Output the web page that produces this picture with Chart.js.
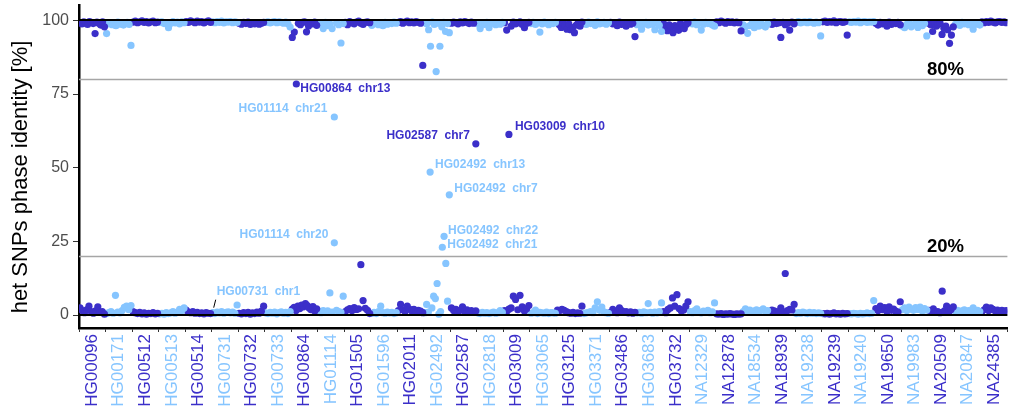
<!DOCTYPE html>
<html>
<head>
<meta charset="utf-8">
<script src="https://cdn.jsdelivr.net/npm/chart.js@4.4.1/dist/chart.umd.min.js"></script>
<style>
  html, body { margin: 0; padding: 0; background: #ffffff; }
  #wrap { width: 1011px; height: 410px; }
  canvas { display: block; }
</style>
</head>
<body>
<div id="wrap"><canvas id="c" width="1011" height="410"></canvas></div>
<script>
// ---------------- DATA ----------------
const samples = [
  "HG00096","HG00171","HG00512","HG00513","HG00514","HG00731","HG00732","HG00733",
  "HG00864","HG01114","HG01505","HG01596","HG02011","HG02492","HG02587","HG02818",
  "HG03009","HG03065","HG03125","HG03371","HG03486","HG03683","HG03732","NA12329",
  "NA12878","NA18534","NA18939","NA19238","NA19239","NA19240","NA19650","NA19983",
  "NA20509","NA20847","NA24385"
];

// phase identity values (%) near the top, listed left to right within each sample
const highBand = [
  [99.2,98.8,99.5,99.0,98.6,99.6,99.3,98.9,95.5,99.4,99.0,98.4,99.5,97.8],
  [95.5,98.8,99.2,98.5,99.0,98.2,99.4,98.7,99.1,98.4,98.9,99.3,98.6,91.5],
  [99.4,99.7,99.2,99.5,99.8,99.3,99.6,99.1,99.5,99.7,99.2,99.4],
  [99.3,99.5,98.9,99.2,97.5,99.0,99.6,99.1,99.4,98.8,99.5,99.2],
  [99.6,99.3,99.8,99.5,99.2,99.7,99.4,99.6,99.1,99.5,99.8,99.3],
  [99.5,99.2,99.6,99.3,99.7,99.1,99.5,99.4,99.6,99.2,99.5,99.3],
  [99.0,98.7,99.3,98.9,99.4,98.6,99.1,98.8,99.2,98.7,99.0,99.3],
  [99.3,99.5,99.1,99.4,99.6,99.2,99.5,99.3,99.0,99.4,98.8,97.7],
  [94.2,96.0,78.4,99.0,98.5,99.3,99.5,96.1,98.1,99.2,98.8,99.4,98.3],
  [99.0,98.6,97.2,99.3,98.2,98.8,97.2,67.2,99.1,98.5,92.3,98.9],
  [99.3,98.5,99.6,99.1,98.8,99.4,99.7,99.0,98.6,99.3,99.5,99.2],
  [98.3,98.8,99.2,98.5,99.0,98.2,99.3,98.7,99.1,98.9,99.4,99.0],
  [99.3,99.6,99.0,99.4,99.7,99.2,99.5,99.1,99.6,99.3,99.0,84.7],
  [99.2,98.8,96.8,91.2,99.4,98.6,82.6,99.0,91.2,97.8,99.3,96.2,98.9,95.8],
  [99.0,99.4,99.2,98.8,99.5,99.1,99.6,99.3,98.9,99.4,99.0,58.1],
  [98.8,97.2,99.1,98.6,99.3,97.5,98.9,99.2,98.5,99.0,98.7,99.3],
  [99.2,96.7,61.3,98.0,99.4,98.8,99.1,99.5,98.6,97.5,99.0,99.3],
  [98.9,99.3,98.6,99.1,96.0,98.8,99.4,99.0,98.5,99.2,98.9,99.3],
  [99.2,98.5,97.6,99.0,98.2,97.0,98.8,96.8,97.5,95.8,98.4,99.1,98.0,99.4],
  [99.2,98.6,99.4,98.9,99.1,98.3,99.5,98.8,99.0,99.3,98.7,99.2],
  [99.3,98.8,99.0,98.2,99.4,98.6,99.1,98.0,99.2,98.7,99.0,94.5],
  [98.5,99.1,97.0,98.8,99.3,98.4,99.0,98.6,96.8,99.2,98.3,96.2],
  [98.9,97.0,96.5,98.5,97.8,95.8,98.2,97.4,96.6,99.0,98.1,97.2,98.6,99.2],
  [99.2,98.8,99.4,98.5,99.0,96.7,98.7,99.3,98.9,99.1,98.4,98.0],
  [99.5,99.2,99.7,99.4,99.0,99.6,99.3,99.5,99.1,99.4,99.2,96.4],
  [98.5,97.8,95.6,98.2,99.0,97.5,98.6,98.0,99.2,98.3,97.7,98.8],
  [99.2,98.6,99.4,98.9,99.1,94.2,99.3,98.5,99.0,96.7,99.4,98.8],
  [99.3,99.6,99.1,99.4,99.5,99.2,99.6,99.3,99.0,99.4,99.2,94.7],
  [99.5,99.7,99.3,99.6,99.4,99.8,99.2,99.5,99.6,99.3,99.5,95.0],
  [99.5,99.3,99.6,99.4,99.7,99.2,99.5,99.6,99.3,99.5,99.4,99.6],
  [99.0,98.4,99.3,98.8,99.1,98.0,99.4,98.6,99.2,98.9,99.3,98.5],
  [98.0,97.5,98.6,99.0,97.8,98.4,99.2,97.6,98.8,98.2,98.9,94.7],
  [99.0,98.5,96.2,99.2,98.0,98.6,99.0,95.2,97.3,98.0,96.8,92.2,95.0,97.8],
  [98.6,99.1,98.3,99.3,98.8,99.0,98.5,99.2,97.0,98.7,99.1,98.4],
  [99.5,99.2,99.6,99.3,99.7,99.4,99.1,99.5,99.6,99.3,99.5,99.2]
];

// phase identity values (%) near the bottom, listed left to right within each sample
const lowBand = [
  [2.4,1.5,0.8,1.8,3.0,1.2,0.6,1.4,2.8,0.9,1.2,0.3],
  [0.5,0.8,1.2,0.6,6.7,1.0,0.7,1.5,2.6,3.0,1.8,3.2],
  [1.2,0.8,0.5,0.9,0.4,0.7,0.3,0.6,0.5,0.8,0.4,0.6],
  [0.4,0.6,0.3,0.8,0.5,0.7,1.2,0.6,1.0,1.9,1.5,2.4],
  [1.7,1.0,0.8,1.2,0.6,0.9,0.5,0.7,0.4,0.8,0.6,0.5],
  [0.8,0.5,1.0,0.7,1.2,0.6,0.9,1.1,0.7,1.0,0.6,3.4],
  [0.6,0.4,0.8,0.5,0.9,0.3,0.7,0.5,1.0,0.6,1.3,3.0],
  [0.7,0.5,0.9,0.6,1.0,0.4,0.8,1.1,0.6,0.9,0.5,1.2],
  [2.0,2.6,1.5,3.0,2.2,3.4,2.8,3.9,3.2,2.4,1.8,2.9,1.4,2.1],
  [1.3,0.8,1.5,1.1,1.4,7.5,1.0,24.5,1.6,1.2,0.9,6.4],
  [1.2,1.8,2.2,1.5,2.5,1.9,2.1,17.1,4.9,2.3,1.6,0.5],
  [0.6,0.9,0.5,1.2,3.0,0.8,0.6,1.0,0.7,0.9,0.5,0.8],
  [1.5,3.6,1.8,1.2,3.0,2.0,1.4,1.9,1.1,1.6,1.3,0.8],
  [0.8,3.6,1.0,48.5,2.4,6.4,5.6,10.7,0.3,1.2,23.0,26.7,17.5,4.7,40.8],
  [2.4,1.5,1.9,1.2,1.6,2.8,1.3,1.8,1.1,1.5,1.0,1.4],
  [0.7,0.5,0.9,0.6,0.8,0.5,0.7,1.0,0.6,0.8,1.5,0.9],
  [1.5,1.2,2.0,2.4,6.4,5.3,1.8,6.7,2.8,1.4,2.1,3.2],
  [0.6,0.8,1.7,0.5,0.9,0.7,0.6,1.0,0.5,0.8,0.7,0.6],
  [1.7,1.5,1.9,1.6,1.2,0.8,0.6,0.9,0.5,0.7,0.6,3.0],
  [0.5,0.7,0.9,1.2,0.8,2.4,4.5,1.6,2.7,1.1,0.8,0.6],
  [0.9,1.9,1.2,0.8,2.4,1.5,1.0,1.2,0.7,1.1,0.6,0.9],
  [0.7,0.9,0.6,1.1,0.8,3.9,0.9,0.6,1.0,0.7,1.2,4.1],
  [1.2,0.8,1.9,2.4,5.8,3.0,6.9,2.2,1.4,1.7,3.0,4.5],
  [1.2,0.8,1.5,2.1,1.0,0.7,1.3,0.9,1.6,0.8,1.1,4.1],
  [0.4,0.3,0.5,0.2,0.4,0.3,0.5,0.3,0.2,0.4,0.3,0.4],
  [1.2,2.1,1.5,1.7,1.1,1.4,1.8,1.0,1.6,2.1,1.3,1.5],
  [1.0,1.7,1.4,0.9,1.2,2.4,1.1,14.1,1.5,1.9,1.7,3.6],
  [0.5,0.8,0.6,1.0,0.7,0.5,0.9,0.6,0.8,0.5,0.7,0.6],
  [0.5,0.4,0.6,0.3,0.5,0.7,0.4,0.5,0.3,0.6,0.4,0.5],
  [0.5,0.4,0.6,0.5,0.3,0.6,0.4,0.5,0.7,0.5,0.6,4.9],
  [2.2,1.5,3.0,1.8,2.5,1.2,2.8,1.6,2.0,1.3,1.0,4.5],
  [1.8,2.4,1.5,2.7,2.0,1.6,2.5,1.9,2.7,1.4,2.2,1.7],
  [1.6,1.2,2.1,1.0,1.2,0.8,8.1,1.4,3.0,1.1,1.9,2.8],
  [1.2,1.6,1.0,1.4,1.8,1.1,1.5,1.3,2.4,1.0,1.6,1.2],
  [1.2,1.8,2.7,1.5,2.4,1.9,1.4,1.7,1.1,1.6,1.3,1.5]
];

// labelled outliers
const annotSample = ["HG00864","HG01114","HG02587","HG03009","HG02492","HG02492","HG02492","HG02492","HG01114","HG00731"];
const annotChr    = ["chr13","chr21","chr7","chr10","chr13","chr7","chr22","chr21","chr20","chr1"];
const annotValue  = [78.4, 67.2, 58.1, 61.3, 48.5, 40.8, 26.7, 23.0, 24.5, 0.8];

const thresholds = [20, 80];
const thresholdLabels = ["20%", "80%"];
const boundLines = [0, 100];
const yTicks = [0, 25, 50, 75, 100];

// ---------------- STYLE ----------------
const DARK = '#3b2fc9';
const LIGHT = '#86c5ff';
const FONT = '"Liberation Sans", Arial, Helvetica, sans-serif';
// annotation placement relative to its point: [align, dx, dy]
const annotPlace = [
  ['left', 4, 5], ['right', -7, -8], ['right', -6, -8], ['left', 6, -8], ['left', 5, -7],
  ['left', 5, -6], ['left', 4, -6], ['left', 5, -3], ['right', -6, -8], ['left', 4, -21]
];

const colorFor = i => (i % 2 === 0 ? DARK : LIGHT);

const datasets = samples.map((s, i) => {
  const pts = [];
  [highBand[i], lowBand[i]].forEach(arr => {
    arr.forEach((v, k) => {
      pts.push({ x: i + 0.04 + 0.92 * k / (arr.length - 1), y: v });
    });
  });
  return {
    label: s,
    data: pts,
    backgroundColor: colorFor(i),
    borderWidth: 0,
    pointRadius: 3.6,
    pointHoverRadius: 3.6
  };
});

const linesPlugin = {
  id: 'lines',
  beforeDatasetsDraw(chart) {
    const { ctx, chartArea, scales } = chart;
    ctx.save();
    ctx.strokeStyle = '#a6a6a6';
    ctx.lineWidth = 1.4;
    thresholds.forEach(t => {
      const y = Math.round(scales.y.getPixelForValue(t)) + 0.5;
      ctx.beginPath(); ctx.moveTo(chartArea.left, y); ctx.lineTo(chartArea.right, y); ctx.stroke();
    });
    ctx.fillStyle = '#000';
    ctx.font = 'bold 18.5px ' + FONT;
    ctx.textAlign = 'center';
    ctx.textBaseline = 'alphabetic';
    thresholds.forEach((t, k) => {
      const y = scales.y.getPixelForValue(t);
      ctx.fillText(thresholdLabels[k], 945.5, y - 4);
    });
    ctx.restore();
  },
  afterDatasetsDraw(chart) {
    const { ctx, chartArea, scales } = chart;
    ctx.save();
    ctx.strokeStyle = '#000';
    ctx.lineWidth = 2;
    boundLines.forEach(t => {
      const y = Math.round(scales.y.getPixelForValue(t));
      ctx.beginPath(); ctx.moveTo(chartArea.left, y); ctx.lineTo(chartArea.right, y); ctx.stroke();
    });
    // annotations
    ctx.font = 'bold 12px ' + FONT;
    ctx.textBaseline = 'middle';
    annotSample.forEach((s, k) => {
      const di = samples.indexOf(s);
      const meta = chart.getDatasetMeta(di);
      const idx = chart.data.datasets[di].data.findIndex(p => p.y === annotValue[k]);
      if (idx < 0) return;
      const el = meta.data[idx];
      const [align, dx, dy] = annotPlace[k];
      ctx.fillStyle = colorFor(di);
      ctx.textAlign = align;
      ctx.fillText(annotSample[k] + '  ' + annotChr[k], el.x + dx, el.y + dy);
      if (annotChr[k] === 'chr1' && s === 'HG00731') {
        ctx.strokeStyle = '#000';
        ctx.lineWidth = 1;
        ctx.beginPath();
        ctx.moveTo(el.x + 1, el.y - 5);
        ctx.lineTo(el.x + 3, el.y - 13);
        ctx.stroke();
      }
    });
    ctx.restore();
  }
};

const yTitlePlugin = {
  id: 'ytitle',
  afterDraw(chart) {
    const { ctx } = chart;
    ctx.save();
    ctx.translate(21, 177);
    ctx.rotate(-Math.PI / 2);
    ctx.fillStyle = '#000';
    ctx.font = '22px ' + FONT;
    ctx.textAlign = 'center';
    ctx.textBaseline = 'middle';
    ctx.fillText('het SNPs phase identity [%]', 0, 0);
    ctx.restore();
  }
};

new Chart(document.getElementById('c'), {
  type: 'scatter',
  data: { datasets },
  options: {
    responsive: false,
    animation: false,
    events: [],
    layout: { padding: { top: 5, right: 0, left: 0, bottom: 0 } },
    plugins: { legend: { display: false }, tooltip: { enabled: false } },
    scales: {
      x: {
        type: 'linear',
        min: 0,
        max: samples.length,
        afterBuildTicks: s => { s.ticks = samples.map((_, i) => ({ value: i + 0.5 })); },
        afterFit: s => { s.height = 82; s.paddingLeft = 0; s.paddingRight = 0; },
        ticks: {
          autoSkip: false,
          minRotation: 90,
          maxRotation: 90,
          padding: 2,
          callback: (v, i) => samples[i],
          color: c => colorFor(c.index),
          font: { size: 17, family: FONT }
        },
        grid: { offset: true, drawOnChartArea: false, drawTicks: true, tickLength: 4, color: '#333', lineWidth: 1 },
        border: { display: true, color: '#000', width: 2.5 }
      },
      y: {
        type: 'linear',
        min: -4.4,
        max: 105.2,
        afterBuildTicks: s => { s.ticks = yTicks.map(v => ({ value: v })); },
        afterFit: s => { s.width = 79; s.paddingTop = 0; s.paddingBottom = 0; },
        ticks: {
          padding: 4,
          color: '#4d4d4d',
          font: { size: 16, family: FONT }
        },
        grid: { drawOnChartArea: false, drawTicks: true, tickLength: 6, color: '#333', lineWidth: 1 },
        border: { display: true, color: '#000', width: 2.5 }
      }
    }
  },
  plugins: [linesPlugin, yTitlePlugin]
});
</script>
</body>
</html>
